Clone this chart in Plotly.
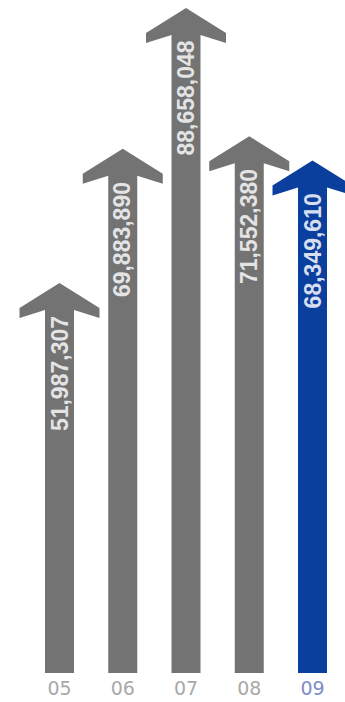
import plotly.graph_objects as go

years = ["05", "06", "07", "08", "09"]
values = [51987307, 69883890, 88658048, 71552380, 68349610]
labels = ["51,987,307", "69,883,890", "88,658,048", "71,552,380", "68,349,610"]
colors = ["#737373", "#737373", "#737373", "#737373", "#0b3f9d"]
text_colors = ["#e4e4e4", "#e4e4e4", "#e4e4e4", "#e4e4e4", "#d6def0"]
tick_colors = ["#a9a9a9", "#a9a9a9", "#a9a9a9", "#a9a9a9", "#7d8cc6"]

W, H = 345, 702
MB = 29
plot_h = H - MB
px_per_cat = 63.25
x0_px = 59.5
px_per_unit = 7.5e-6
xr = [-x0_px / px_per_cat, (W - x0_px) / px_per_cat]
yr = [0, plot_h / px_per_unit]

def dx(p):
    return p / px_per_cat

def dy(p):
    return p / px_per_unit

fig = go.Figure()
half_shaft = 14.5
half_head = 40
for i, v in enumerate(values):
    xs = [i - dx(half_shaft), i - dx(half_shaft), i - dx(half_head), i - dx(half_head), i,
          i + dx(half_head), i + dx(half_head), i + dx(half_shaft), i + dx(half_shaft), i - dx(half_shaft)]
    ys = [0, v - dy(27), v - dy(35), v - dy(25), v,
          v - dy(25), v - dy(35), v - dy(27), 0, 0]
    fig.add_trace(go.Scatter(x=xs, y=ys, mode="lines", fill="toself",
                             fillcolor=colors[i], line=dict(width=0, color=colors[i]),
                             hoverinfo="skip", showlegend=False))
    fig.add_annotation(x=i, y=v - dy(31), text=labels[i], textangle=-90,
                       showarrow=False, xanchor="center", yanchor="top",
                       font=dict(family="Liberation Sans, Arial", size=23,
                                 color=text_colors[i], weight="bold"))

ticktext = [f"<span style='color:{c}'>{y}</span>" for y, c in zip(years, tick_colors)]
fig.update_layout(
    width=W, height=H,
    margin=dict(l=0, r=0, t=0, b=MB),
    paper_bgcolor="white", plot_bgcolor="white",
    xaxis=dict(range=xr, tickvals=list(range(len(years))), ticktext=ticktext,
               showgrid=False, zeroline=False, showline=False, ticks="",
               ticklabelstandoff=2,
               tickfont=dict(family="DejaVu Sans", size=19, color="#a9a9a9"), fixedrange=True),
    yaxis=dict(range=yr, visible=False, showgrid=False, zeroline=False, fixedrange=True),
)
fig.write_html("out.html", config={"displayModeBar": False})
